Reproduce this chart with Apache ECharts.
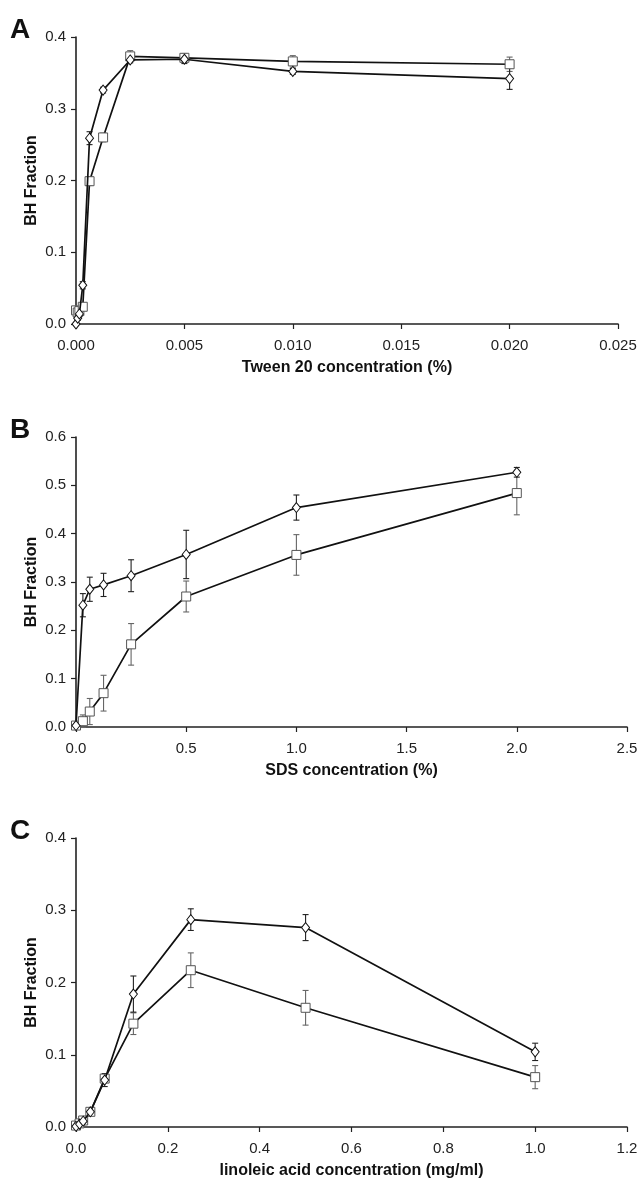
<!DOCTYPE html>
<html>
<head>
<meta charset="utf-8">
<script src="https://cdn.jsdelivr.net/npm/echarts@6/dist/echarts.min.js"></script>
<style>
html,body{margin:0;padding:0;background:#fff;}
#chart{width:641px;height:1180px;}
</style>
</head>
<body>
<div id="chart"></div>
<script>
// ---- Panel A: Tween 20 ----
var tweenX = [0, 0.000078, 0.000156, 0.0003125, 0.000625, 0.00125, 0.0025, 0.005, 0.01, 0.02];
var tweenDiamond = [0.000, 0.008, 0.014, 0.054, 0.259, 0.326, 0.368, 0.369, 0.352, 0.342];
var tweenDiamondErr = [0.002, 0.003, 0.003, 0.005, 0.009, 0.004, 0.004, 0.006, 0.004, 0.015];
var tweenSquare = [0.019, 0.016, 0.018, 0.024, 0.199, 0.260, 0.373, 0.371, 0.366, 0.362];
var tweenSquareErr = [0.003, 0.003, 0.003, 0.004, 0.006, 0.006, 0.008, 0.006, 0.008, 0.010];

// ---- Panel B: SDS ----
var sdsX = [0, 0.03125, 0.0625, 0.125, 0.25, 0.5, 1, 2];
var sdsDiamond = [0.003, 0.252, 0.285, 0.294, 0.313, 0.357, 0.454, 0.527];
var sdsDiamondErr = [0.003, 0.024, 0.025, 0.024, 0.033, 0.050, 0.026, 0.010];
var sdsSquare = [0.003, 0.012, 0.032, 0.070, 0.171, 0.270, 0.356, 0.484];
var sdsSquareErr = [0.003, 0.013, 0.027, 0.037, 0.043, 0.032, 0.042, 0.045];

// ---- Panel C: linoleic acid ----
var linX = [0, 0.0078, 0.0156, 0.03125, 0.0625, 0.125, 0.25, 0.5, 1];
var linDiamond = [0.001, 0.004, 0.008, 0.021, 0.065, 0.184, 0.287, 0.276, 0.104];
var linDiamondErr = [0.001, 0.002, 0.003, 0.004, 0.009, 0.025, 0.015, 0.018, 0.012];
var linSquare = [0.002, 0.005, 0.009, 0.021, 0.067, 0.143, 0.217, 0.165, 0.069];
var linSquareErr = [0.001, 0.002, 0.003, 0.004, 0.005, 0.015, 0.024, 0.024, 0.016];

var panelLetters = ['A', 'B', 'C'];
var xTitles = ['Tween 20 concentration (%)', 'SDS concentration (%)', 'linoleic acid concentration (mg/ml)'];
var yTitle = 'BH Fraction';

var FONT = "'Liberation Sans', Arial, sans-serif";
var panels = [
  {x: tweenX, d: tweenDiamond, de: tweenDiamondErr, s: tweenSquare, se: tweenSquareErr,
   xmin: 0, xmax: 0.025, xint: 0.005, xdec: 3, ymax: 0.4,
   grid: {left: 76, top: 37, width: 542, height: 287}},
  {x: sdsX, d: sdsDiamond, de: sdsDiamondErr, s: sdsSquare, se: sdsSquareErr,
   xmin: 0, xmax: 2.5, xint: 0.5, xdec: 1, ymax: 0.6,
   grid: {left: 76, top: 437, width: 551, height: 290}},
  {x: linX, d: linDiamond, de: linDiamondErr, s: linSquare, se: linSquareErr,
   xmin: 0, xmax: 1.2, xint: 0.2, xdec: 1, ymax: 0.4,
   grid: {left: 76, top: 838, width: 551, height: 289}}
];

function pairs(xs, ys) { return xs.map(function (x, i) { return [x, ys[i]]; }); }
function errData(xs, ys, es) { return xs.map(function (x, i) { return [x, ys[i] - es[i], ys[i] + es[i]]; }); }

function errSeries(idx, data, color) {
  return {
    type: 'custom', xAxisIndex: idx, yAxisIndex: idx, data: data, z: 2, silent: true,
    encode: {x: 0, y: [1, 2]},
    renderItem: function (params, api) {
      var x = api.value(0);
      var lo = api.coord([x, api.value(1)]);
      var hi = api.coord([x, api.value(2)]);
      var w = 3;
      var st = {stroke: color, lineWidth: 1.1};
      return {type: 'group', children: [
        {type: 'line', shape: {x1: lo[0], y1: lo[1], x2: hi[0], y2: hi[1]}, style: st},
        {type: 'line', shape: {x1: lo[0] - w, y1: lo[1], x2: lo[0] + w, y2: lo[1]}, style: st},
        {type: 'line', shape: {x1: hi[0] - w, y1: hi[1], x2: hi[0] + w, y2: hi[1]}, style: st}
      ]};
    }
  };
}

var grids = [], xAxes = [], yAxes = [], series = [], graphics = [];
panels.forEach(function (p, i) {
  grids.push(p.grid);
  xAxes.push({
    type: 'value', gridIndex: i, min: p.xmin, max: p.xmax, interval: p.xint,
    name: xTitles[i], nameLocation: 'middle', nameGap: 36,
    nameTextStyle: {fontFamily: FONT, fontSize: 16, fontWeight: 'bold', color: '#111'},
    axisLine: {onZero: false, lineStyle: {color: '#222', width: 1.6}},
    axisTick: {show: true, inside: false, length: 5, lineStyle: {color: '#222', width: 1.2}},
    axisLabel: {fontFamily: FONT, fontSize: 15, color: '#222', margin: 14,
      formatter: (function (dec) { return function (v) { return v.toFixed(dec); }; })(p.xdec)},
    splitLine: {show: false}
  });
  yAxes.push({
    type: 'value', gridIndex: i, min: 0, max: p.ymax, interval: 0.1,
    name: yTitle, nameLocation: 'middle', nameGap: 36, nameRotate: 90, nameMoveOverlap: false,
    nameTextStyle: {fontFamily: FONT, fontSize: 16, fontWeight: 'bold', color: '#111'},
    axisLine: {show: true, lineStyle: {color: '#222', width: 1.6}},
    axisTick: {show: true, inside: false, length: 5, lineStyle: {color: '#222', width: 1.2}},
    axisLabel: {fontFamily: FONT, fontSize: 15, color: '#222', margin: 10,
      formatter: function (v) { return v.toFixed(1); }},
    splitLine: {show: false}
  });
  series.push(errSeries(i, errData(p.x, p.s, p.se), '#666'));
  series.push(errSeries(i, errData(p.x, p.d, p.de), '#222'));
  series.push({
    type: 'line', xAxisIndex: i, yAxisIndex: i, data: pairs(p.x, p.s), z: 3,
    symbol: 'rect', symbolSize: 9, showAllSymbol: true,
    lineStyle: {color: '#111', width: 1.7},
    itemStyle: {color: '#fff', borderColor: '#555', borderWidth: 1},
    animation: false
  });
  series.push({
    type: 'line', xAxisIndex: i, yAxisIndex: i, data: pairs(p.x, p.d), z: 4,
    symbol: 'diamond', symbolSize: [8, 10], showAllSymbol: true,
    lineStyle: {color: '#111', width: 1.7},
    itemStyle: {color: '#fff', borderColor: '#111', borderWidth: 1},
    animation: false
  });
  graphics.push({
    type: 'text', left: 10, top: p.grid.top - 21,
    style: {text: panelLetters[i], font: 'bold 28px ' + FONT, fill: '#111'}
  });
});

var chart = echarts.init(document.getElementById('chart'), null, {renderer: 'canvas'});
chart.setOption({
  animation: false,
  backgroundColor: '#fff',
  grid: grids, xAxis: xAxes, yAxis: yAxes, series: series, graphic: graphics
});
</script>
</body>
</html>
